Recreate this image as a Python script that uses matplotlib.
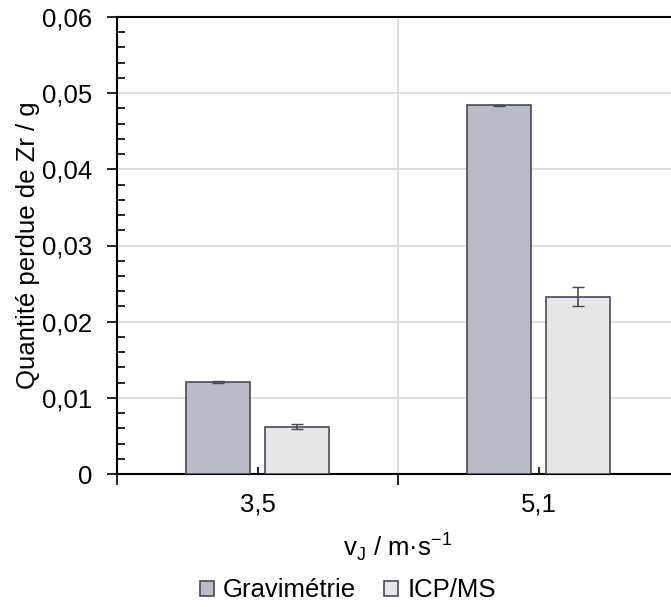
import matplotlib.pyplot as plt
from matplotlib.ticker import MultipleLocator, FixedLocator, NullFormatter
import numpy as np

plt.rcParams['font.family'] = ['Liberation Sans', 'DejaVu Sans']

categories = ['3,5', '5,1']
series = ['Gravimétrie', 'ICP/MS']
grav = [0.0121, 0.0484]
grav_err = [0.0001, 0.0001]
icp = [0.0062, 0.0233]
icp_err = [0.0003, 0.0012]
yticks = [0, 0.01, 0.02, 0.03, 0.04, 0.05, 0.06]
ytick_labels = ['0', '0,01', '0,02', '0,03', '0,04', '0,05', '0,06']

colors = ['#BBBBC6', '#E6E6E6']
edge = '#4A4A55'
fs = 18.5

fig = plt.figure(figsize=(6.71, 6.07), dpi=100)
ax = fig.add_axes([117/671, 133/607, 562/671, 457/607])

x = np.arange(len(categories))
w = 0.228
off = 0.142
ax.bar(x - off, grav, w, color=colors[0], edgecolor=edge, linewidth=1.2, label=series[0], zorder=3)
ax.bar(x + off, icp, w, color=colors[1], edgecolor=edge, linewidth=1.2, label=series[1], zorder=3)
ax.errorbar(x - off, grav, yerr=grav_err, fmt='none', ecolor=edge, elinewidth=1.2, capsize=4, zorder=4)
ax.errorbar(x + off, icp, yerr=icp_err, fmt='none', ecolor=edge, elinewidth=1.2, capsize=4, zorder=4)

# x: boundaries as major ticks (out), categories as minor ticks (in) with labels
ax.xaxis.set_major_locator(FixedLocator([-0.5, 0.5, 1.5]))
ax.xaxis.set_major_formatter(NullFormatter())
ax.xaxis.set_minor_locator(FixedLocator(x))
ax.set_xticklabels(categories, minor=True)
ax.tick_params(axis='x', which='major', direction='out', length=8, width=1.2)
ax.tick_params(axis='x', which='minor', direction='in', length=5, width=1.2, pad=13, labelsize=fs)

ax.set_yticks(yticks)
ax.set_yticklabels(ytick_labels)
ax.yaxis.set_minor_locator(MultipleLocator(0.002))
ax.tick_params(axis='y', which='major', direction='out', length=7, width=1.2, pad=11, labelsize=fs)
ax.tick_params(axis='y', which='minor', direction='in', length=6, width=1.2)

ax.set_xlim(-0.5, 1.5)
ax.set_ylim(0, 0.06)

ax.grid(True, which='major', color='#D9D9D9', linewidth=1.2, zorder=0)
ax.set_axisbelow(True)
for s in ['left', 'bottom', 'top']:
    ax.spines[s].set_linewidth(1.5)
    ax.spines[s].set_color('black')
ax.spines['right'].set_visible(False)

ax.set_ylabel('Quantité perdue de Zr / g', fontsize=fs)
ax.yaxis.set_label_coords(-(117 - 40) / 562, 0.5)
ax.set_xlabel('v$_\\mathregular{J}$ / m·s$^\\mathregular{-1}$', fontsize=fs)
ax.xaxis.set_label_coords((398 - 117) / 562, -(531 - 474) / 457)

fig.legend(loc='lower center', bbox_to_anchor=(0.518, -0.022), ncol=2, frameon=False,
           fontsize=fs, handlelength=0.55, handleheight=0.55, handletextpad=0.35,
           columnspacing=1.1, borderaxespad=0.3)

fig.savefig('out.png', dpi=100)
